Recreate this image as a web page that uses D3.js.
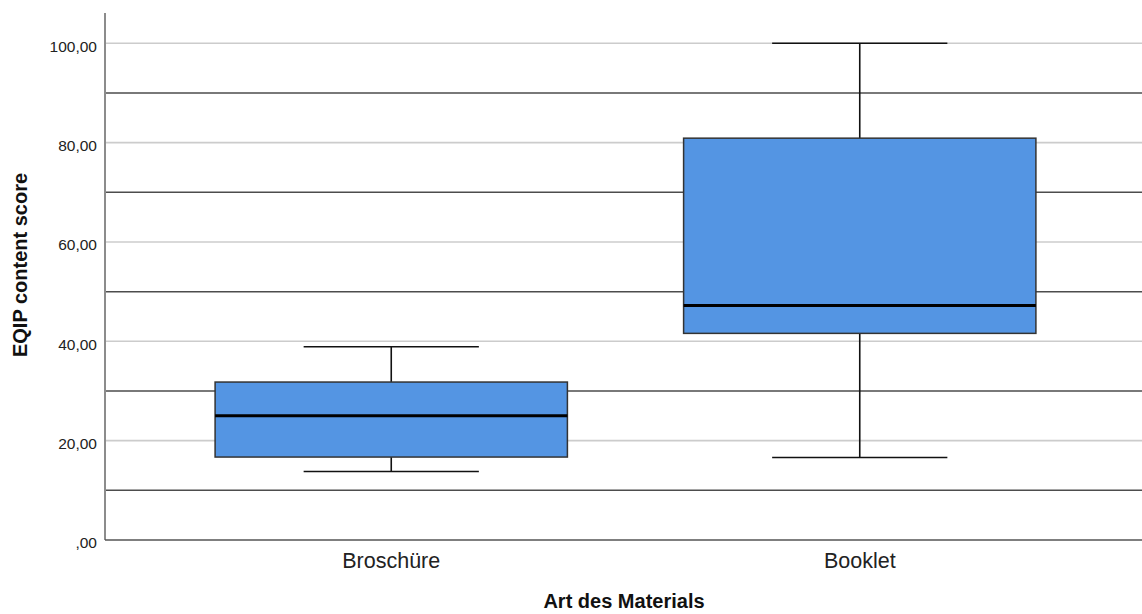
<!DOCTYPE html>
<html><head><meta charset="utf-8">
<script src="https://cdn.jsdelivr.net/npm/d3@7"></script>
<style>body{margin:0;background:#fff}svg{display:block;font-family:Arial,"Liberation Sans",sans-serif}</style>
</head><body><svg id="c" width="1142" height="614"></svg>
<script>
const categories = ["Broschüre", "Booklet"];
const whiskerLow  = [13.8, 16.6];
const q1          = [16.7, 41.6];
const median      = [25.0, 47.2];
const q3          = [31.8, 80.9];
const whiskerHigh = [38.9, 100.0];
const labeledTicks = [0, 20, 40, 60, 80, 100];
const tickLabels = [",00", "20,00", "40,00", "60,00", "80,00", "100,00"];
const majorGrid = [10, 30, 50, 70, 90];

const svg = d3.select("#c");
const pLeft = 105, pRight = 1142, pTop = 13, pBottom = 540;
const y = d3.scaleLinear().domain([0, 106.1]).range([pBottom, pTop]);
const x = d3.scaleBand().domain(categories).range([157, 1094]).padding(0);
const bw = x.bandwidth();
const FONT = "Arial, 'Liberation Sans', sans-serif";

// light gridlines at labeled ticks
svg.append("g").selectAll("line").data(labeledTicks.filter(d => d > 0)).join("line")
  .attr("x1", pLeft).attr("x2", pRight)
  .attr("y1", d => y(d)).attr("y2", d => y(d))
  .attr("stroke", "#cccccc").attr("stroke-width", 1.6);
// dark gridlines
svg.append("g").selectAll("line").data(majorGrid).join("line")
  .attr("x1", pLeft).attr("x2", pRight)
  .attr("y1", d => y(d)).attr("y2", d => y(d))
  .attr("stroke", "#4d4d4d").attr("stroke-width", 1.5);

// axes
svg.append("line").attr("x1", pLeft).attr("x2", pLeft).attr("y1", pTop).attr("y2", pBottom)
  .attr("stroke", "#8c8c8c").attr("stroke-width", 2);
svg.append("line").attr("x1", pLeft).attr("x2", pRight).attr("y1", pBottom).attr("y2", pBottom)
  .attr("stroke", "#555").attr("stroke-width", 1.5);

const yAxis = d3.axisLeft(y).tickValues(labeledTicks).tickSize(0).tickPadding(8)
  .tickFormat((d, i) => tickLabels[i]);
const gy = svg.append("g").attr("transform", `translate(${pLeft},0)`).call(yAxis);
gy.select(".domain").remove();
gy.selectAll("text").attr("font-size", 15.5).attr("fill", "#222").attr("dy", "0.5em").attr("font-family", FONT);

const xAxis = d3.axisBottom(x).tickSize(0).tickPadding(13);
const gx = svg.append("g").attr("transform", `translate(0,${pBottom})`).call(xAxis);
gx.select(".domain").remove();
gx.selectAll("text").attr("font-size", 21.5).attr("fill", "#222").attr("font-family", FONT);

// boxes
const g = svg.append("g");
categories.forEach((c, i) => {
  const cx = x(c) + bw / 2;
  const boxW = bw * 0.752;
  const capW = bw * 0.374;
  g.append("line").attr("x1", cx).attr("x2", cx).attr("y1", y(whiskerHigh[i])).attr("y2", y(q3[i]))
    .attr("stroke", "#111").attr("stroke-width", 1.6);
  g.append("line").attr("x1", cx).attr("x2", cx).attr("y1", y(q1[i])).attr("y2", y(whiskerLow[i]))
    .attr("stroke", "#111").attr("stroke-width", 1.6);
  g.append("line").attr("x1", cx - capW / 2).attr("x2", cx + capW / 2).attr("y1", y(whiskerHigh[i])).attr("y2", y(whiskerHigh[i]))
    .attr("stroke", "#111").attr("stroke-width", 1.6);
  g.append("line").attr("x1", cx - capW / 2).attr("x2", cx + capW / 2).attr("y1", y(whiskerLow[i])).attr("y2", y(whiskerLow[i]))
    .attr("stroke", "#111").attr("stroke-width", 1.6);
  g.append("rect").attr("x", cx - boxW / 2).attr("width", boxW)
    .attr("y", y(q3[i])).attr("height", y(q1[i]) - y(q3[i]))
    .attr("fill", "#5495e3").attr("stroke", "#333").attr("stroke-width", 1.5);
  g.append("line").attr("x1", cx - boxW / 2).attr("x2", cx + boxW / 2).attr("y1", y(median[i])).attr("y2", y(median[i]))
    .attr("stroke", "#000").attr("stroke-width", 3);
});

// titles
svg.append("text").attr("x", 624).attr("y", 608).attr("text-anchor", "middle")
  .attr("font-size", 20).attr("font-weight", "bold").attr("fill", "#111").attr("font-family", FONT).text("Art des Materials");
svg.append("text").attr("transform", "translate(27,265) rotate(-90)").attr("text-anchor", "middle")
  .attr("font-size", 20).attr("font-weight", "bold").attr("fill", "#111").attr("font-family", FONT).text("EQIP content score");
</script></body></html>
